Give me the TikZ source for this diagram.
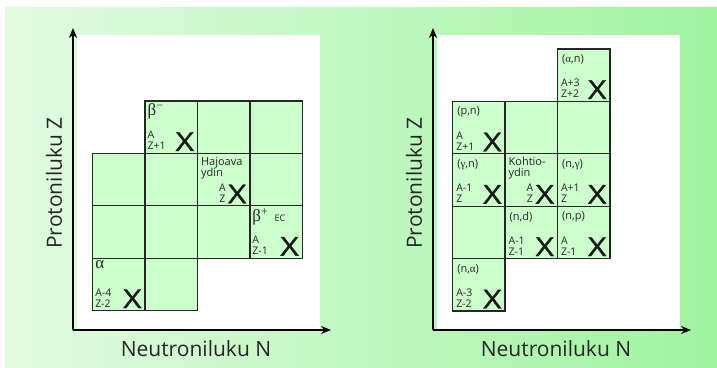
\documentclass[tikz,border=0pt]{standalone}
\usepackage{fontspec}
\usepackage{graphicx}
\setmainfont{Open Sans}
\newfontfamily\grk{Liberation Serif}
\newfontfamily\elemfont[FakeBold=1.2]{Open Sans}
\usetikzlibrary{arrows.meta}
\definecolor{bgleft}{RGB}{226,251,226}
\definecolor{bgmid}{RGB}{208,249,208}
\definecolor{bgright}{RGB}{160,244,160}
\definecolor{cellgreen}{RGB}{204,255,204}
\newcommand{\elemX}{\scalebox{1.22}[1]{X}}
\begin{document}
\begin{tikzpicture}[x=1pt,y=-1pt]
  \tikzstyle{cell}=[draw=black!85, line width=1.3pt, fill=cellgreen, minimum size=52.4pt, inner sep=0pt]
  \tikzstyle{elem}=[font=\fontsize{26}{26}\elemfont, inner sep=0pt, anchor=south east, text=black!90]
  \tikzstyle{nuc}=[font=\fontsize{10.5}{11}\selectfont, align=left, inner sep=0pt, anchor=south west, text=black!85]
  \tikzstyle{tag}=[font=\fontsize{11}{11}\selectfont, align=left, inner sep=0pt, anchor=north west, text=black!85]
  \tikzstyle{decay}=[font=\fontsize{17}{17}\selectfont\grk, inner sep=0pt, anchor=north west, text=black!85]
  \tikzstyle{axis}=[line width=1.2pt, -{Stealth[length=10pt,width=8pt]}]
  \tikzstyle{axlbl}=[font=\fontsize{21}{21}\selectfont, inner sep=0pt, text=black!85]

  \useasboundingbox (0,0) rectangle (717,367);
  \shade[left color=bgleft, middle color=bgmid, right color=bgright] (5,7) rectangle (717,367);

  % paneelit
  \fill[white] (77,35) rectangle (320,330);
  \fill[white] (437,35) rectangle (680,330);

  % akselit
  \coordinate (o1) at (73,330);
  \coordinate (z1) at (73,28);
  \coordinate (n1) at (331,330);
  \coordinate (o2) at (433,330);
  \coordinate (z2) at (433,28);
  \coordinate (n2) at (691,330);
  \draw[axis] (o1) -- (z1);
  \draw[axis] (o1) -- (n1);
  \draw[axis] (o2) -- (z2);
  \draw[axis] (o2) -- (n2);
  \node[axlbl] (nl1) at (196,349) {Neutroniluku N};
  \node[axlbl, rotate=90] (zl1) at (54,183) {Protoniluku Z};
  \node[axlbl] (nl2) at (556,349) {Neutroniluku N};
  \node[axlbl, rotate=90] (zl2) at (414,183) {Protoniluku Z};

  % hajoamiset (vasen)
  \foreach \c/\r in {1/0,2/0,3/0,0/1,1/1,2/1,3/1,0/2,1/2,2/2,3/2,0/3,1/3} {
    \node[cell] (a\c\r) at ({92.7+(\c+0.5)*52.4},{101+(\r+0.5)*52.4}) {};
  }
  \node[decay] (bm) at ([shift={(3,3)}]a10.north west) {β\textsuperscript{−}};
  \node[nuc] (bmN) at ([shift={(3,-4)}]a10.south west) {A\\Z+1};
  \node[elem] (bmX) at ([shift={(-4,-3)}]a10.south east) {\elemX};

  \node[tag] (hy) at ([shift={(4,4)}]a21.north west) {Hajoava\\ydin};
  \node[elem] (hyX) at ([shift={(-4,-3)}]a21.south east) {\elemX};
  \node[nuc, align=center, anchor=south east] (hyN) at ([shift={(-2,-1)}]hyX.south west) {A\\Z};

  \node[decay] (bp) at ([shift={(3,3)}]a32.north west) {β\textsuperscript{+}};
  \node[tag, font=\fontsize{9}{9}\selectfont, anchor=base west] (ec) at ([shift={(6,0)}]bp.base east) {EC};
  \node[nuc] (bpN) at ([shift={(3,-4)}]a32.south west) {A\\Z-1};
  \node[elem] (bpX) at ([shift={(-4,-3)}]a32.south east) {\elemX};

  \node[decay] (al) at ([shift={(3,3)}]a03.north west) {α};
  \node[nuc] (alN) at ([shift={(3,-4)}]a03.south west) {A-4\\Z-2};
  \node[elem] (alX) at ([shift={(-4,-3)}]a03.south east) {\elemX};

  % ydinreaktiot (oikea)
  \foreach \c/\r in {2/0,0/1,1/1,2/1,0/2,1/2,2/2,0/3,1/3,2/3,0/4} {
    \node[cell] (b\c\r) at ({452.7+(\c+0.5)*52.4},{49+(\r+0.5)*52.4}) {};
  }
  \node[tag] (an) at ([shift={(5,6)}]b20.north west) {({\grk α},n)};
  \node[nuc] (anN) at ([shift={(4,-4)}]b20.south west) {A+3\\Z+2};
  \node[elem] (anX) at ([shift={(-4,-3)}]b20.south east) {\elemX};

  \node[tag] (pn) at ([shift={(5,6)}]b01.north west) {(p,n)};
  \node[nuc] (pnN) at ([shift={(4,-4)}]b01.south west) {A\\Z+1};
  \node[elem] (pnX) at ([shift={(-4,-3)}]b01.south east) {\elemX};

  \node[tag] (gn) at ([shift={(5,6)}]b02.north west) {({\grk γ},n)};
  \node[nuc] (gnN) at ([shift={(4,-4)}]b02.south west) {A-1\\Z};
  \node[elem] (gnX) at ([shift={(-4,-3)}]b02.south east) {\elemX};

  \node[tag] (ko) at ([shift={(4,4)}]b12.north west) {Kohtio-\\ydin};
  \node[elem] (koX) at ([shift={(-4,-3)}]b12.south east) {\elemX};
  \node[nuc, align=center, anchor=south east] (koN) at ([shift={(-2,-1)}]koX.south west) {A\\Z};

  \node[tag] (ng) at ([shift={(5,6)}]b22.north west) {(n,{\grk γ})};
  \node[nuc] (ngN) at ([shift={(4,-4)}]b22.south west) {A+1\\Z};
  \node[elem] (ngX) at ([shift={(-4,-3)}]b22.south east) {\elemX};

  \node[tag] (nd) at ([shift={(5,6)}]b13.north west) {(n,d)};
  \node[nuc] (ndN) at ([shift={(4,-4)}]b13.south west) {A-1\\Z-1};
  \node[elem] (ndX) at ([shift={(-4,-3)}]b13.south east) {\elemX};

  \node[tag] (np) at ([shift={(5,6)}]b23.north west) {(n,p)};
  \node[nuc] (npN) at ([shift={(4,-4)}]b23.south west) {A\\Z-1};
  \node[elem] (npX) at ([shift={(-4,-3)}]b23.south east) {\elemX};

  \node[tag] (na) at ([shift={(5,6)}]b04.north west) {(n,{\grk α})};
  \node[nuc] (naN) at ([shift={(4,-4)}]b04.south west) {A-3\\Z-2};
  \node[elem] (naX) at ([shift={(-4,-3)}]b04.south east) {\elemX};
\end{tikzpicture}
\end{document}
